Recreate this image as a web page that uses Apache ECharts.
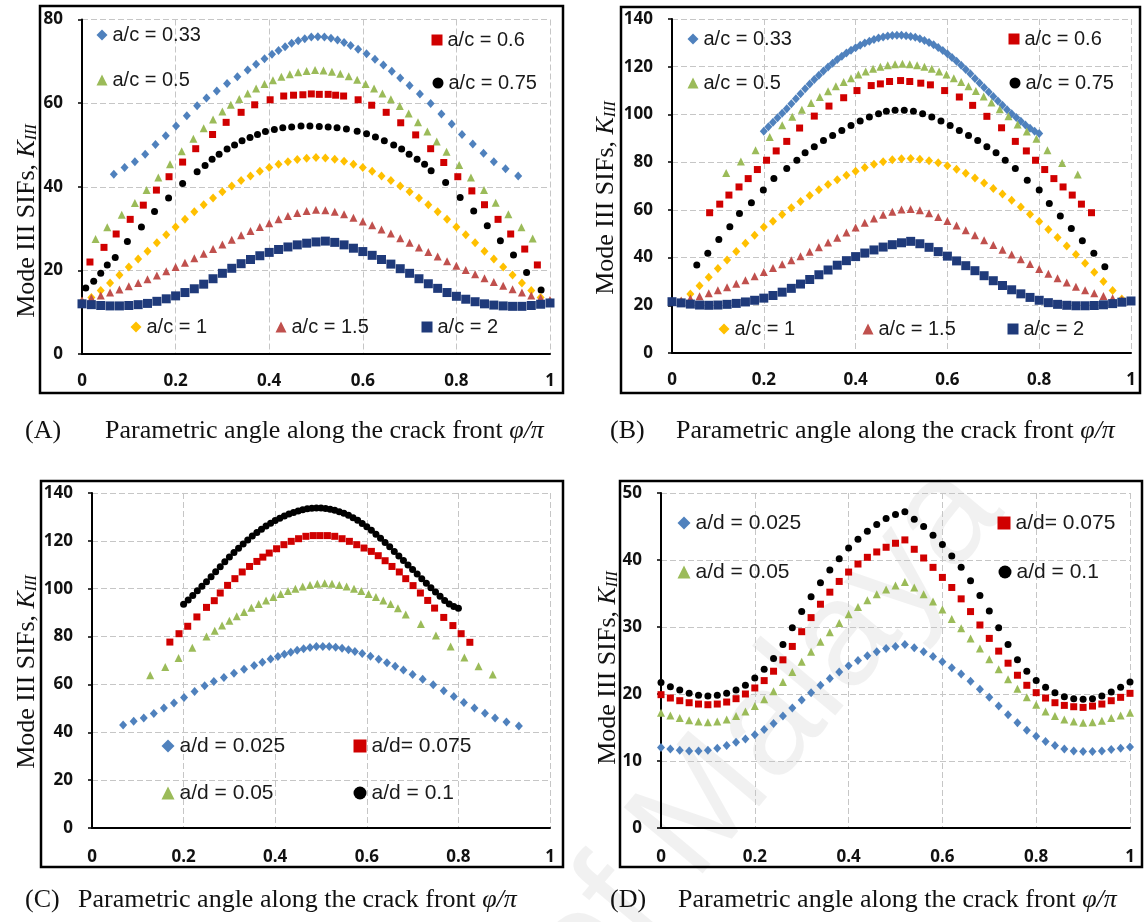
<!DOCTYPE html>
<html><head><meta charset="utf-8">
<script src="https://cdn.jsdelivr.net/npm/echarts/dist/echarts.min.js"></script>
<style>html,body{margin:0;padding:0;background:#fff}#c{width:1144px;height:922px}</style>
</head><body><div id="c"></div>
<script>
// ---------- shared x grids ----------
const X51 = [0,0.02,0.04,0.06,0.08,0.1,0.12,0.14,0.16,0.18,0.2,0.22,0.24,0.26,0.28,0.3,0.32,0.34,0.36,0.38,0.4,0.42,0.44,0.46,0.48,0.5,0.52,0.54,0.56,0.58,0.6,0.62,0.64,0.66,0.68,0.7,0.72,0.74,0.76,0.78,0.8,0.82,0.84,0.86,0.88,0.9,0.92,0.94,0.96,0.98,1];
const X49 = [0.02,0.04,0.06,0.08,0.1,0.12,0.14,0.16,0.18,0.2,0.22,0.24,0.26,0.28,0.3,0.32,0.34,0.36,0.38,0.4,0.42,0.44,0.46,0.48,0.5,0.52,0.54,0.56,0.58,0.6,0.62,0.64,0.66,0.68,0.7,0.72,0.74,0.76,0.78,0.8,0.82,0.84,0.86,0.88,0.9,0.92,0.94,0.96,0.98];
const X61 = [0.2,0.21,0.22,0.23,0.24,0.25,0.26,0.27,0.28,0.29,0.3,0.31,0.32,0.33,0.34,0.35,0.36,0.37,0.38,0.39,0.4,0.41,0.42,0.43,0.44,0.45,0.46,0.47,0.48,0.49,0.5,0.51,0.52,0.53,0.54,0.55,0.56,0.57,0.58,0.59,0.6,0.61,0.62,0.63,0.64,0.65,0.66,0.67,0.68,0.69,0.7,0.71,0.72,0.73,0.74,0.75,0.76,0.77,0.78,0.79,0.8];

// ---------- Panel A ----------
const A033_x = [0.068,0.091,0.113,0.135,0.157,0.179,0.201,0.224,0.246,0.266,0.288,0.310,0.332,0.354,0.372,0.390,0.406,0.420,0.434,0.448,0.462,0.476,0.490,0.504,0.518,0.532,0.546,0.560,0.574,0.590,0.608,0.626,0.644,0.662,0.680,0.700,0.722,0.745,0.768,0.790,0.812,0.835,0.858,0.880,0.905,0.932];
const A033_y = [43.0,44.6,46.0,47.8,50.1,52.2,54.5,57.0,59.4,61.2,62.9,64.7,66.3,67.9,69.3,70.6,71.7,72.6,73.5,74.3,74.9,75.4,75.8,75.9,75.8,75.5,75.1,74.5,73.8,72.9,71.8,70.5,69.1,67.6,66.0,64.2,62.2,59.9,57.4,55.0,52.5,50.2,48.0,46.0,44.3,42.6];
const A05_x = [0.029,0.054,0.085,0.113,0.138,0.163,0.188,0.213,0.238,0.26,0.28,0.3,0.318,0.336,0.354,0.372,0.39,0.408,0.426,0.444,0.462,0.48,0.498,0.516,0.534,0.552,0.57,0.588,0.606,0.624,0.642,0.66,0.679,0.698,0.718,0.738,0.758,0.779,0.806,0.831,0.859,0.884,0.911,0.939,0.963];
const A05_y = [27.5,30.3,33.3,36.1,39.2,42.2,45.4,48.5,51.5,54.0,56.1,58.0,59.6,61.0,62.3,63.5,64.6,65.5,66.3,66.9,67.4,67.7,67.9,67.8,67.5,67.0,66.4,65.6,64.6,63.5,62.3,60.9,59.3,57.5,55.4,53.2,50.8,48.4,45.2,42.2,39.2,36.2,33.4,30.3,27.6];
const A06_x = [0.017,0.047,0.073,0.103,0.131,0.159,0.186,0.215,0.243,0.279,0.308,0.340,0.369,0.402,0.431,0.452,0.472,0.490,0.507,0.526,0.542,0.559,0.590,0.619,0.650,0.681,0.713,0.745,0.773,0.803,0.833,0.860,0.889,0.916,0.946,0.973];
const A06_y = [22.0,25.5,28.7,32.2,35.6,39.2,42.4,45.9,49.1,52.5,55.4,57.8,59.6,60.8,61.7,61.9,62.0,62.2,62.1,62.1,61.9,61.7,60.8,59.5,57.8,55.3,52.4,49.1,45.8,42.4,39.0,35.7,32.2,28.7,25.1,21.3];
const A075_x = [0.008,0.025,0.040,0.054,0.071,0.097,0.127,0.155,0.185,0.215,0.246,0.263,0.278,0.293,0.310,0.326,0.342,0.359,0.375,0.392,0.411,0.429,0.448,0.468,0.487,0.507,0.526,0.545,0.565,0.588,0.608,0.627,0.646,0.666,0.683,0.699,0.716,0.732,0.746,0.777,0.808,0.837,0.866,0.894,0.922,0.950,0.981];
const A075_y = [15.8,17.4,19.3,21.3,23.1,26.9,30.4,34.1,37.3,40.8,43.6,45.1,46.6,47.8,49.0,50.0,51.0,51.8,52.5,53.2,53.7,54.1,54.3,54.5,54.5,54.4,54.3,54.1,53.8,53.3,52.7,51.9,51.0,50.0,49.0,47.8,46.6,45.4,43.8,41.0,37.4,34.2,30.7,27.1,23.7,19.5,15.3];
const A1_y = [12.5,13.5,15.2,17.0,18.9,20.8,22.7,24.6,26.6,28.5,30.4,32.2,34.0,35.7,37.3,38.8,40.2,41.5,42.6,43.7,44.6,45.4,46.0,46.5,46.8,47.0,46.9,46.6,46.1,45.4,44.6,43.7,42.6,41.5,40.2,38.8,37.3,35.7,34.0,32.2,30.4,28.5,26.6,24.6,22.7,20.8,18.9,17.0,15.2,13.5,12.5];
const A15_y = [12.8,13.4,14.0,14.7,15.4,16.2,17.0,17.9,18.8,19.8,20.8,21.8,22.9,24.0,25.1,26.2,27.3,28.4,29.4,30.4,31.3,32.2,33.0,33.7,34.2,34.5,34.4,34.0,33.4,32.6,31.7,30.8,29.8,28.8,27.7,26.6,25.5,24.4,23.3,22.2,21.1,20.1,19.1,18.1,17.2,16.3,15.5,14.7,14.0,13.4,12.9];
const A2_y = [12.0,11.8,11.6,11.5,11.5,11.6,11.8,12.1,12.6,13.2,13.9,14.7,15.6,16.7,18.0,19.3,20.5,21.6,22.6,23.5,24.3,25.0,25.6,26.1,26.5,26.8,27.0,26.7,26.1,25.3,24.5,23.6,22.6,21.5,20.4,19.3,18.0,16.8,15.7,14.7,13.8,13.1,12.5,12.0,11.7,11.5,11.4,11.4,11.6,11.9,12.2];

// ---------- Panel B ----------
const B033_y = [93.0,94.8,96.7,98.6,100.5,102.4,104.5,106.6,108.7,110.8,112.8,114.6,116.4,118.2,119.9,121.5,123.0,124.4,125.7,126.9,128.0,129.0,129.9,130.7,131.4,132.0,132.5,132.9,133.1,133.2,133.2,133.0,132.7,132.3,131.7,131.0,130.2,129.2,128.1,126.8,125.4,123.9,122.3,120.6,118.8,117.0,115.1,113.2,111.3,109.4,107.5,105.6,103.8,102.0,100.3,98.7,97.1,95.6,94.2,93.0,92.0];
const B05_x = [0.118,0.15,0.182,0.213,0.24,0.262,0.283,0.303,0.322,0.34,0.357,0.374,0.39,0.406,0.422,0.438,0.454,0.47,0.486,0.502,0.518,0.534,0.55,0.566,0.582,0.598,0.614,0.63,0.646,0.662,0.679,0.696,0.714,0.733,0.753,0.773,0.794,0.818,0.85,0.884];
const B05_y = [75.5,80.3,85.0,90.5,95.5,99.0,102.0,104.8,107.3,109.7,111.8,113.6,115.2,116.7,118.0,119.1,120.0,120.6,121.0,121.2,121.0,120.6,120.0,119.1,118.0,116.7,115.2,113.6,111.8,109.8,107.5,105.0,102.2,99.2,95.8,92.8,89.8,85.0,79.6,74.8];
const B06_x = [0.082,0.104,0.124,0.146,0.166,0.186,0.206,0.227,0.25,0.278,0.31,0.342,0.374,0.403,0.434,0.454,0.474,0.498,0.518,0.542,0.563,0.594,0.626,0.655,0.686,0.718,0.748,0.772,0.792,0.812,0.832,0.852,0.872,0.892,0.914];
const B06_y = [58.8,62.4,66.2,69.6,73.1,76.9,80.8,84.7,88.7,94.3,99.3,103.5,107.0,110.0,112.1,112.8,113.8,114.2,113.8,113.1,112.4,110.0,107.3,103.8,99.2,94.4,88.7,84.7,80.8,76.9,73.1,69.6,66.2,62.4,58.8];
const B075_x = [0.054,0.078,0.102,0.126,0.147,0.173,0.199,0.222,0.25,0.272,0.29,0.31,0.33,0.35,0.37,0.39,0.41,0.43,0.45,0.467,0.486,0.506,0.526,0.546,0.566,0.586,0.606,0.626,0.646,0.666,0.686,0.706,0.726,0.748,0.774,0.8,0.822,0.846,0.87,0.894,0.919,0.943];
const B075_y = [36.9,41.8,47.6,52.9,58.5,63.0,68.3,73.1,77.3,80.8,83.9,86.4,89.1,91.2,93.3,95.4,97.2,98.9,100.3,101.3,101.7,101.7,101.3,100.3,98.9,97.2,95.4,93.3,91.2,89.1,86.4,83.9,80.8,77.3,72.4,68.3,62.7,57.4,52.2,47.1,41.8,36.2];
const B1_y = [21.5,24.7,28.2,31.8,35.4,39.0,42.5,46.0,49.4,52.8,55.2,58.1,60.9,63.5,66.0,68.4,70.6,72.6,74.5,76.2,77.8,79.1,80.2,81.0,81.4,81.5,81.2,80.6,79.7,78.5,77.0,75.3,73.4,71.3,69.0,66.6,64.0,61.2,58.2,55.1,51.8,48.4,44.9,41.3,37.6,33.8,30.0,26.2,22.6];
const B15_y = [22.0,22.8,23.8,25.0,26.3,27.6,29.0,30.5,32.2,33.9,35.6,37.2,38.9,40.6,42.4,44.3,46.3,48.3,50.5,52.6,54.6,56.4,58.0,59.2,60.1,60.4,59.8,58.6,57.0,55.3,53.4,51.4,49.4,47.3,45.3,43.3,41.3,39.3,37.3,35.2,33.2,31.3,29.5,27.8,26.3,25.0,23.9,23.0,22.3];
const B2_y = [21.5,21.0,20.5,20.1,20.0,20.1,20.4,20.8,21.4,22.1,23.0,24.1,25.5,27.1,28.9,30.8,32.8,34.8,36.8,38.7,40.4,41.9,43.2,44.4,45.4,46.2,46.8,45.8,44.3,42.5,40.6,38.6,36.6,34.5,32.4,30.3,28.3,26.5,24.8,23.3,22.1,21.1,20.4,20.0,19.8,19.8,19.9,20.2,20.7,21.3,21.8];

// ---------- Panel C ----------
const C005_x = [0.127,0.16,0.189,0.219,0.25,0.268,0.284,0.30,0.316,0.332,0.348,0.364,0.38,0.396,0.412,0.428,0.444,0.46,0.476,0.492,0.508,0.524,0.54,0.556,0.572,0.588,0.604,0.62,0.636,0.652,0.668,0.685,0.718,0.751,0.783,0.813,0.844,0.875];
const C005_y = [63.8,67.3,71.0,75.3,80.0,82.4,84.6,86.6,88.5,90.3,92.0,93.6,95.1,96.5,97.8,99.0,100.0,100.9,101.6,102.1,102.3,102.1,101.6,100.9,100.0,99.0,97.8,96.5,95.1,93.6,91.8,89.2,85.3,80.5,75.9,71.3,67.6,64.1];
const C0075_x = [0.17,0.19,0.209,0.229,0.25,0.267,0.28,0.296,0.312,0.328,0.344,0.36,0.373,0.387,0.403,0.419,0.435,0.451,0.467,0.483,0.498,0.514,0.53,0.546,0.562,0.578,0.594,0.61,0.625,0.64,0.655,0.671,0.685,0.701,0.717,0.733,0.748,0.768,0.788,0.806,0.825];
const C0075_y = [77.7,81.2,84.3,88.2,92.2,95.0,98.2,101.4,104.2,107.0,109.3,111.4,113.2,114.9,116.7,118.4,119.8,120.9,121.9,122.2,122.2,122.2,121.9,120.9,119.8,118.4,117.0,115.6,113.8,111.7,109.3,107.0,104.2,101.3,98.2,95.1,91.9,88.0,84.6,81.2,77.6];
const C01_y = [93.5,95.3,97.2,99.1,101.0,102.9,105.0,107.1,109.2,111.3,113.3,115.1,116.9,118.7,120.4,122.0,123.5,124.9,126.2,127.4,128.5,129.5,130.4,131.2,131.9,132.5,133.0,133.4,133.6,133.7,133.7,133.5,133.2,132.8,132.2,131.5,130.7,129.7,128.6,127.3,125.9,124.4,122.8,121.1,119.3,117.5,115.6,113.7,111.8,109.9,108.0,106.1,104.2,102.3,100.4,98.6,96.8,95.1,93.6,92.6,91.8];

// ---------- Panel D ----------
const D0025_y = [12.0,11.8,11.6,11.5,11.5,11.6,11.9,12.3,12.8,13.3,13.9,14.7,15.6,16.7,17.9,19.1,20.2,21.3,22.3,23.3,24.2,25.0,25.7,26.3,26.8,27.1,27.4,26.9,26.3,25.6,24.8,23.9,23.0,21.9,20.7,19.5,18.2,16.9,15.7,14.6,13.7,12.9,12.3,11.8,11.5,11.4,11.4,11.5,11.7,11.9,12.1];
const D005_y = [17.2,16.8,16.4,16.1,15.9,15.8,15.9,16.2,16.7,17.4,18.2,19.2,20.4,21.8,23.3,24.8,26.3,27.8,29.2,30.6,31.9,33.0,34.0,34.9,35.6,36.2,36.7,35.9,34.9,33.8,32.6,31.2,29.8,28.3,26.8,25.2,23.7,22.2,20.8,19.5,18.4,17.4,16.7,16.2,15.9,15.7,15.8,16.0,16.4,16.8,17.2];
const D0075_y = [19.9,19.4,19.0,18.7,18.5,18.4,18.5,18.8,19.3,20.0,20.9,22.0,23.4,25.1,27.1,29.3,31.4,33.4,35.2,36.8,38.2,39.4,40.4,41.2,41.9,42.5,43.0,41.6,40.3,38.9,37.4,35.9,34.2,32.3,30.3,28.3,26.4,24.6,22.8,21.3,20.2,19.4,18.7,18.3,18.1,18.0,18.2,18.5,19.0,19.5,20.1];
const D01_y = [21.7,21.1,20.6,20.1,19.8,19.7,19.8,20.1,20.6,21.3,22.4,23.7,25.3,27.4,29.9,32.3,34.5,36.6,38.5,40.2,41.8,43.1,44.3,45.3,46.2,46.8,47.2,46.1,45.0,43.7,42.3,40.6,38.9,36.9,34.7,32.4,29.9,27.4,25.1,23.4,22.0,21.0,20.2,19.6,19.3,19.2,19.3,19.7,20.3,21.0,21.8];

// ---------- axis ticks ----------
const Y_MAX = [80, 140, 140, 50];
const Y_STEP = [20, 20, 20, 10];
const X_STEP = 0.2;

// ---------- styling ----------
const COL = {blue:'#4F81BD', green:'#9BBB59', red:'#D00000', black:'#000000', gold:'#FFC000', pink:'#C0504D', navy:'#1F3A7A'};
const GRIDS = [
  {left:82, top:19.5, width:468, height:334.5},
  {left:672, top:19, width:459, height:334},
  {left:92, top:493, width:458, height:335},
  {left:661, top:493, width:469, height:335}
];
const XMARGIN = [19, 19, 21, 21];
const SYM = {diamond:['diamond',[8,9]], tri:['triangle',8], sq:['rect',7], circ:['circle',7]};

function pts(xs, ys){ return xs.map((x,i)=>[x, ys[i]]); }
function ser(name, g, xs, ys, sym, color, size){
  return {type:'scatter', name:name, xAxisIndex:g, yAxisIndex:g, data:pts(xs,ys),
    symbol:SYM[sym][0], symbolSize: size || SYM[sym][1], itemStyle:{color:color, opacity:1},
    emphasis:{disabled:true}, animation:false, z:2};
}

const series = [
  ser('a/c = 0.33',0,A033_x,A033_y,'diamond',COL.blue),
  ser('a/c = 0.5',0,A05_x,A05_y,'tri',COL.green),
  ser('a/c = 0.6',0,A06_x,A06_y,'sq',COL.red),
  ser('a/c = 0.75',0,A075_x,A075_y,'circ',COL.black),
  ser('a/c = 1',0,X51,A1_y,'diamond',COL.gold),
  ser('a/c = 1.5',0,X51,A15_y,'tri',COL.pink),
  ser('a/c = 2',0,X51,A2_y,'sq',COL.navy,9),

  ser('a/c = 0.33',1,X61,B033_y,'diamond',COL.blue),
  ser('a/c = 0.5',1,B05_x,B05_y,'tri',COL.green),
  ser('a/c = 0.6',1,B06_x,B06_y,'sq',COL.red),
  ser('a/c = 0.75',1,B075_x,B075_y,'circ',COL.black),
  ser('a/c = 1',1,X49,B1_y,'diamond',COL.gold),
  ser('a/c = 1.5',1,X49,B15_y,'tri',COL.pink),
  ser('a/c = 2',1,X51,B2_y,'sq',COL.navy,9),

  ser('a/d = 0.025',2,A033_x,A033_y,'diamond',COL.blue),
  ser('a/d = 0.05',2,C005_x,C005_y,'tri',COL.green),
  ser('a/d= 0.075',2,C0075_x,C0075_y,'sq',COL.red),
  ser('a/d = 0.1',2,X61,C01_y,'circ',COL.black),

  ser('a/d = 0.025',3,X51,D0025_y,'diamond',COL.blue),
  ser('a/d = 0.05',3,X51,D005_y,'tri',COL.green),
  ser('a/d= 0.075',3,X51,D0075_y,'sq',COL.red),
  ser('a/d = 0.1',3,X51,D01_y,'circ',COL.black)
];

const tickFont = {color:'#111', fontWeight:'bold', fontSize:17, fontFamily:'"Open Sans", "Liberation Sans", sans-serif'};
const split = {show:true, lineStyle:{color:'#c6c6c6', width:1, type:[6,3]}};
const axisLine = {show:true, onZero:false, lineStyle:{color:'#000', width:2}};

const xAxis = GRIDS.map((g,i)=>({gridIndex:i, type:'value', min:0, max:1, interval:X_STEP,
  axisLine:axisLine, axisTick:{show:false}, splitLine:split,
  axisLabel:Object.assign({margin:XMARGIN[i]}, tickFont)}));
const yAxis = GRIDS.map((g,i)=>({gridIndex:i, type:'value', min:0, max:Y_MAX[i], interval:Y_STEP[i],
  axisLine:axisLine, axisTick:{show:true, length:4, lineStyle:{color:'#000', width:1.5}}, splitLine:split,
  axisLabel:Object.assign({margin:19}, tickFont)}));

// legends: [name, iconCenterX, centerY, panelType]
const LEG = [
  ['a/c = 0.33',102,35,'c'],['a/c = 0.6',437,40,'c'],['a/c = 0.5',102,80,'c'],['a/c = 0.75',438,83,'c'],
  ['a/c = 1',136,327,'c'],['a/c = 1.5',281,327,'c'],['a/c = 2',427,327,'c'],
  ['a/c = 0.33',693,39,'c'],['a/c = 0.6',1014,39,'c'],['a/c = 0.5',693,83,'c'],['a/c = 0.75',1015,83,'c'],
  ['a/c = 1',724,329,'c'],['a/c = 1.5',868,329,'c'],['a/c = 2',1013,329,'c'],
  ['a/d = 0.025',168,746,'d'],['a/d= 0.075',360,746,'d'],['a/d = 0.05',168,793,'d'],['a/d = 0.1',360,793,'d'],
  ['a/d = 0.025',684,523,'d'],['a/d= 0.075',1004,523,'d'],['a/d = 0.05',684,572,'d'],['a/d = 0.1',1005,572,'d']
];
const legend = LEG.map(l=>{
  const w = l[3]==='c' ? 11 : 13;
  return {data:[l[0]], left:l[1]-w/2, top:l[2]-13, padding:0, itemWidth:w, itemHeight:w, itemGap:0,
    selectedMode:false,
    textStyle:{color:'#1a1a1a', fontSize: l[3]==='c'?20:21, lineHeight:26,
      fontFamily:'"Liberation Sans", Arial, sans-serif'}};
});

const serif = '"Liberation Serif", "DejaVu Serif", serif';
function ytitle(x,y){
  return {type:'text', x:x, y:y, rotation:Math.PI/2, z:10,
    style:{text:'{a|Mode III SIFs, }{k|K}{s|III}', align:'center', verticalAlign:'middle',
      rich:{a:{fontFamily:serif, fontSize:26, fill:'#111', lineHeight:32, verticalAlign:'bottom'},
            k:{fontFamily:serif, fontStyle:'italic', fontSize:26, fill:'#111', lineHeight:32, verticalAlign:'bottom'},
            s:{fontFamily:serif, fontStyle:'italic', fontSize:16, fill:'#111', lineHeight:26, verticalAlign:'bottom'}}}};
}
function caption(lbl, x1, x2, y){
  return [
    {type:'text', x:x1, y:y, z:10, style:{text:lbl, font:'26px '+serif, fill:'#111', verticalAlign:'middle'}},
    {type:'text', x:x2, y:y, z:10, style:{text:'Parametric angle along the crack front {i|φ/π}', font:'26px '+serif, fill:'#111', verticalAlign:'middle',
      rich:{i:{fontFamily:serif, fontStyle:'italic', fontSize:26, fill:'#111'}}}}
  ];
}
function box(x,y,w,h){ return {type:'rect', shape:{x:x,y:y,width:w,height:h}, z:10, style:{fill:null, stroke:'#000', lineWidth:2.5}}; }

const graphic = [
  {type:'text', x:765, y:735, rotation:50*Math.PI/180, z:-5, silent:true,
   style:{text:'of Malaya', font:'150px "Liberation Sans", sans-serif', fill:'rgba(0,0,0,0.055)', align:'center', verticalAlign:'middle'}},
  box(40,6,523,387), box(621,7,519,386), box(41,481,522,386), box(620,481,522,386),
  ytitle(24,221), ytitle(603,198), ytitle(24,672), ytitle(605,668)
].concat(caption('(A)',25,105,431), caption('(B)',610,676,431), caption('(C)',25,78,900), caption('(D)',610,678,900));

const chart = echarts.init(document.getElementById('c'), null, {renderer:'canvas'});
chart.setOption({
  animation:false, backgroundColor:'#fff',
  grid: GRIDS.map(g=>Object.assign({containLabel:false}, g)),
  xAxis:xAxis, yAxis:yAxis, legend:legend, series:series, graphic:graphic
});
</script></body></html>
